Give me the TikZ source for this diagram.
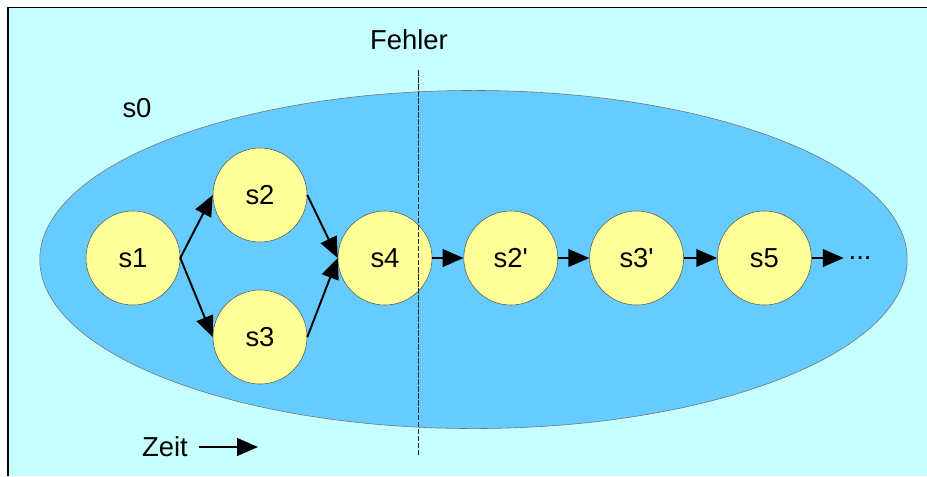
\documentclass[tikz,border=0pt]{standalone}
\usepackage{fontspec}
\setmainfont{Liberation Sans}
\usetikzlibrary{arrows.meta, positioning}

\definecolor{slideBg}{RGB}{198,255,255}
\definecolor{stateSpace}{RGB}{102,204,255}
\definecolor{stateFill}{RGB}{255,255,153}

\begin{document}
\begin{tikzpicture}[
        x=0.025cm, y=-0.025cm,
        node distance=0.78cm,
        stateNode/.style={
            circle,
            draw=black!65,
            fill=stateFill,
            minimum size=2.35cm,
            inner sep=0pt,
            font=\fontsize{19.5}{22}\selectfont
        },
        transition/.style={
            -{Triangle[length=0.52cm, width=0.44cm]},
            line width=1.4pt,
            draw=black
        },
        cutLine/.style={
            dash pattern=on 4pt off 1pt,
            line width=0.6pt,
            draw=black!85
        },
        labelText/.style={
            font=\fontsize{19.5}{22}\selectfont
        }
    ]

        % Frame and background
        \useasboundingbox (0,0) rectangle (927,476);
        \fill[white] (0,0) rectangle (927,476);
        \fill[slideBg] (8,7) rectangle (927,476);
        \draw[line width=1.4pt] (8,476) -- (8,7.5) -- (927,7.5);

        % State space s0
        \draw[fill=stateSpace, draw=black!55, thin]
            (473.5,259.5) ellipse [x radius=10.84cm, y radius=4.225cm];
        \node[labelText] (s0) at (137,108) {s0};

        % States
        \node[stateNode] (s1) at (133,258) {s1};
        \node[stateNode] (s2) at (260,195) {s2};
        \node[stateNode] (s3) at (260,337) {s3};
        \node[stateNode] (s4) at (385,258) {s4};
        \node[stateNode, right=of s4] (s2p) {s2\textquotesingle};
        \node[stateNode, right=of s2p] (s3p) {s3\textquotesingle};
        \node[stateNode, right=0.83cm of s3p] (s5) {s5};
        \node[labelText, right=0.8cm of s5] (more) {...};

        % Transitions
        \draw[transition] (s1.east) -- (s2.west);
        \draw[transition] (s1.east) -- (s3.west);
        \draw[transition] (s2.east) -- (s4.west);
        \draw[transition] (s3.east) -- (s4.west);
        \draw[transition] (s4) -- (s2p);
        \draw[transition] (s2p) -- (s3p);
        \draw[transition] (s3p) -- (s5);
        \draw[transition] (s5) -- (more);

        % Fault marker
        \node[labelText] (fehler) at (409,40) {Fehler};
        \coordinate (cutTop) at (418,70);
        \coordinate (cutBottom) at (418,455);
        \draw[cutLine] (cutTop) -- (cutBottom);

        % Time direction
        \node[labelText] (zeit) at (165,447) {Zeit};
        \coordinate (zeitEnd) at (258,447);
        \draw[transition, shorten <=0.15cm] (zeit) -- (zeitEnd);

    \end{tikzpicture}
\end{document}
